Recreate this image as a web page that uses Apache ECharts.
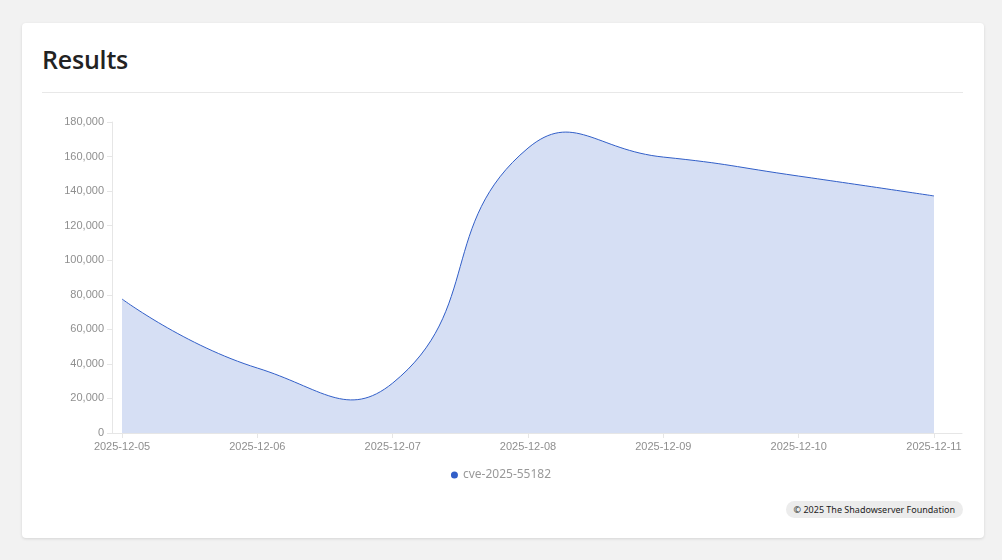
<!DOCTYPE html>
<html>
<head>
	<meta charset="utf-8">
	<title>Results</title>
	<script src="https://cdn.jsdelivr.net/npm/echarts@6/dist/echarts.min.js"></script>
	<style>
		html, body { margin: 0; padding: 0; background: #f2f2f2; width: 1002px; height: 560px; overflow: hidden; }
		.card { position: absolute; left: 22px; top: 23px; width: 962px; height: 515px; background: #fff;
			border-radius: 4px; box-shadow: 0 1px 3px rgba(0,0,0,0.12); }
		.card h2 { position: absolute; left: 20px; top: 19px; margin: 0; font-family: "Open Sans", "Noto Sans", sans-serif;
			font-size: 25px; font-weight: 600; color: #222; letter-spacing: -0.2px; }
		.card .rule { position: absolute; left: 20px; top: 69px; width: 921px; height: 1px; background: #e8e8e8; }
		.card .foot { position: absolute; right: 21px; top: 478px; height: 17px; line-height: 17px; padding: 0 8px;
			border-radius: 9px; background: #ececec; font-family: "Noto Sans", sans-serif; font-size: 9px; color: #222; }
		#main { position: absolute; left: 0; top: 0; width: 1002px; height: 560px; }
	</style>
</head>
<body>
	<div class="card">
		<h2>Results</h2>
		<div class="rule"></div>
		<div class="foot">© 2025 The Shadowserver Foundation</div>
	</div>
	<div id="main"></div>
	<script type="text/javascript">
		// 数据
		var dates = ['2025-12-05', '2025-12-06', '2025-12-07', '2025-12-08', '2025-12-09', '2025-12-10', '2025-12-11'];
		var counts = [77550, 37600, 28900, 164900, 159700, 148700, 137200];
		var seriesName = 'cve-2025-55182';
		var lineColor = '#325fc8';

		var day = 24 * 3600 * 1000;
		var first = +echarts.time.parse(dates[0]);
		var last = +echarts.time.parse(dates[dates.length - 1]);

		var points = [];
		for (var i = 0; i < dates.length; i++) {
			points.push([dates[i], counts[i]]);
		}

		// 平滑曲线 (old style spline, smooth = 0.5)
		function splinePath(pts, smooth) {
			var n = pts.length;
			var cpIn = [], cpOut = [];
			for (var i = 0; i < n; i++) {
				var p = pts[i];
				if (i === 0 || i === n - 1) {
					cpIn.push(p); cpOut.push(p);
					continue;
				}
				var prev = pts[i - 1], next = pts[i + 1];
				var vx = next[0] - prev[0], vy = next[1] - prev[1];
				var d0 = Math.hypot(p[0] - prev[0], p[1] - prev[1]);
				var d1 = Math.hypot(next[0] - p[0], next[1] - p[1]);
				var r = d1 / (d0 + d1);
				cpIn.push([p[0] - vx * smooth * (1 - r), p[1] - vy * smooth * (1 - r)]);
				cpOut.push([p[0] + vx * smooth * r, p[1] + vy * smooth * r]);
			}
			var d = '';
			for (var j = 1; j < n; j++) {
				d += ' C' + cpOut[j - 1][0] + ',' + cpOut[j - 1][1] + ' ' + cpIn[j][0] + ',' + cpIn[j][1] + ' ' + pts[j][0] + ',' + pts[j][1];
			}
			return d;
		}

		function renderCurve(params, api) {
			if (params.dataIndex !== 0) return null;
			var pts = [];
			for (var i = 0; i < dates.length; i++) {
				pts.push(api.coord([dates[i], counts[i]]));
			}
			var base0 = api.coord([dates[0], 0]);
			var base1 = api.coord([dates[dates.length - 1], 0]);
			var curve = splinePath(pts, 0.5);
			var start = 'M' + pts[0][0] + ',' + pts[0][1];
			return {
				type: 'group',
				children: [{
					type: 'path',
					shape: { pathData: start + curve + ' L' + base1[0] + ',' + base1[1] + ' L' + base0[0] + ',' + base0[1] + ' Z' },
					style: { fill: lineColor, opacity: 0.2 }
				}, {
					type: 'path',
					shape: { pathData: start + curve },
					style: { fill: null, stroke: lineColor, lineWidth: 1 }
				}]
			};
		}

		var myChart = echarts.init(document.getElementById('main'));
		var option = {
			animation: false,
			color: [lineColor],
			grid: { left: 112, right: 40, top: 122, bottom: 127 },
			legend: {
				data: [seriesName],
				top: 464,
				left: 'center',
				icon: 'circle',
				itemWidth: 7,
				itemHeight: 7,
				itemGap: 10,
				textStyle: { color: '#999', fontSize: 12, fontFamily: 'Noto Sans' }
			},
			xAxis: {
				type: 'time',
				min: first - 0.074 * day,
				max: last + 0.207 * day,
				axisLine: { lineStyle: { color: '#e6e6e6' } },
				axisTick: { show: true, lineStyle: { color: '#e6e6e6' } },
				splitLine: { show: false },
				axisLabel: {
					formatter: '{yyyy}-{MM}-{dd}',
					color: '#8f8f8f',
					fontSize: 11,
					fontFamily: 'Liberation Sans',
					showMinLabel: false,
					showMaxLabel: false
				}
			},
			yAxis: {
				type: 'value',
				min: 0,
				max: 180000,
				interval: 20000,
				axisLine: { show: true, lineStyle: { color: '#e6e6e6' } },
				axisTick: { show: true, lineStyle: { color: '#e6e6e6' } },
				splitLine: { show: false },
				axisLabel: {
					color: '#8f8f8f',
					fontSize: 11,
					fontFamily: 'Liberation Sans',
					formatter: function (v) { return v.toLocaleString('en-US'); }
				}
			},
			series: [{
				name: seriesName,
				type: 'custom',
				renderItem: renderCurve,
				itemStyle: { color: lineColor },
				encode: { x: 0, y: 1 },
				data: points
			}]
		};
		myChart.setOption(option);
	</script>
</body>
</html>
